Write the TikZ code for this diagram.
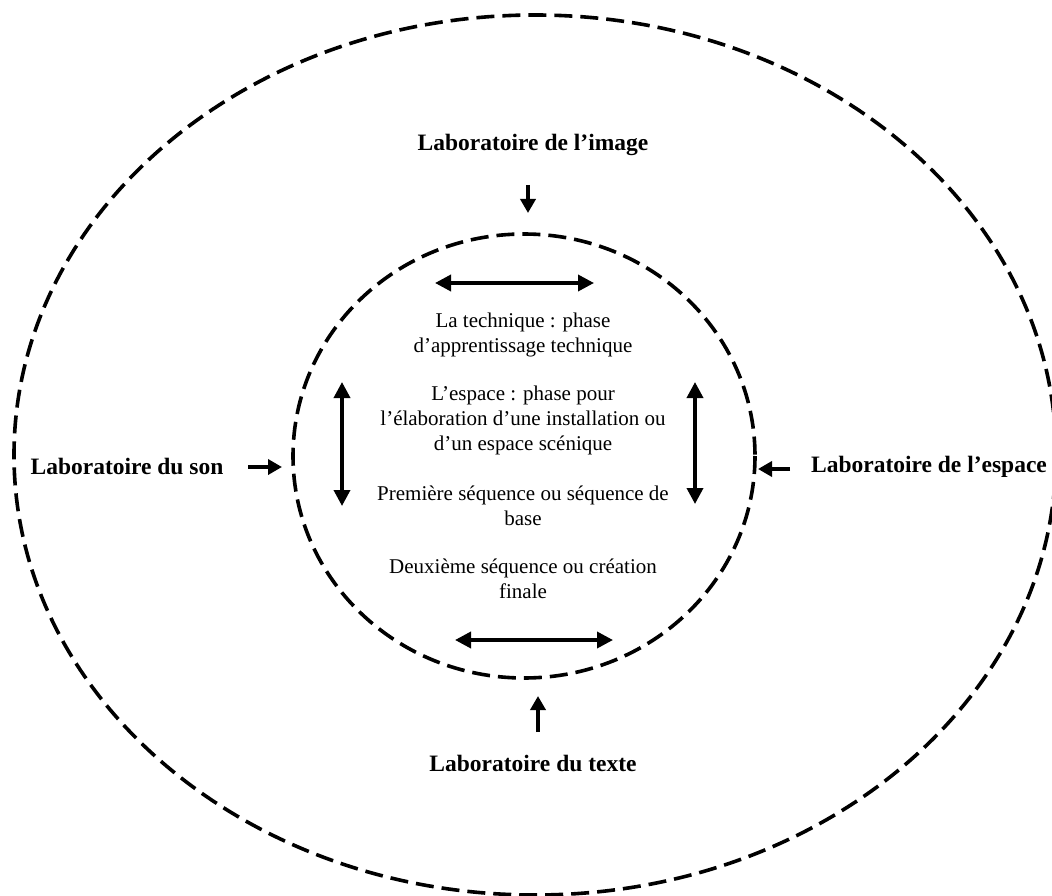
\documentclass[tikz,border=0pt]{standalone}
\usepackage{fontspec}
\setmainfont{Liberation Serif}
\usetikzlibrary{arrows.meta}

\tikzset{
	ring/.style={line width=3.6pt, dash pattern=on 18pt off 8pt},
	lab/.style={font=\fontsize{23.5}{26}\selectfont\bfseries},
	phase/.style={font=\fontsize{21}{25}\selectfont, align=center},
	twoway/.style={line width=3.6pt, {Triangle[length=16pt,width=16pt]}-{Triangle[length=16pt,width=16pt]}},
	inflow/.style={line width=3.6pt, -{Triangle[length=14pt,width=15pt]}}
}

\begin{document}
\begin{tikzpicture}[x=1pt,y=-1pt]
\useasboundingbox (0,0) rectangle (1052,896);

%rings
\draw[ring] (535,455) ellipse [x radius=521, y radius=440];
\draw[ring] (524,456) ellipse [x radius=231, y radius=222];

%laboratories
\node[lab](image) at (533,145){Laboratoire de l’image};
\node[lab](son) at (127,466){Laboratoire du son};
\node[lab](espace) at (929,467){Laboratoire de l’espace};
\node[lab](texte) at (533,763){Laboratoire du texte};

\coordinate (imgA) at (528,185);
\coordinate (imgB) at (528,213);
\coordinate (sonA) at (248,467);
\coordinate (sonB) at (282,467);
\coordinate (espA) at (790,469);
\coordinate (espB) at (758,469);
\coordinate (txtA) at (538,732);
\coordinate (txtB) at (538,696);

\draw[inflow](imgA)--(imgB);
\draw[inflow](sonA)--(sonB);
\draw[inflow](espA)--(espB);
\draw[inflow](txtA)--(txtB);

%phases
\node[phase](tech) at (523,334.5){La technique : phase\\d’apprentissage technique};
\node[phase](lieu) at (523,420){L’espace : phase pour\\l’élaboration d’une installation ou\\d’un espace scénique};
\node[phase](base) at (523,505.5){Première séquence ou séquence de\\base};
\node[phase](finale) at (523,579){Deuxième séquence ou création\\finale};

%arrows inside the ring
\coordinate (topW) at (435,283);
\coordinate (topE) at (594,283);
\coordinate (botW) at (455,640);
\coordinate (botE) at (613,640);
\coordinate (lefN) at (342,382);
\coordinate (lefS) at (342,506);
\coordinate (rigN) at (695,382);
\coordinate (rigS) at (695,504);

\draw[twoway](topW)--(topE);
\draw[twoway](botW)--(botE);
\draw[twoway](lefN)--(lefS);
\draw[twoway](rigN)--(rigS);
\end{tikzpicture}
\end{document}
